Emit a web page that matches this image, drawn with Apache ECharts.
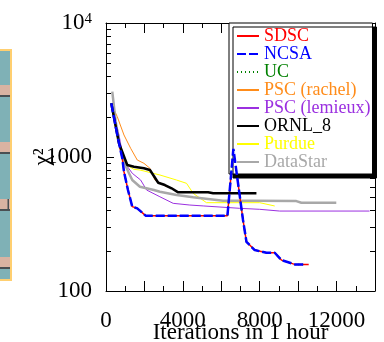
<!DOCTYPE html>
<html><head><meta charset="utf-8">
<script src="https://cdn.jsdelivr.net/npm/echarts@6/dist/echarts.min.js"></script>
<style>html,body{margin:0;padding:0;background:#fff}#c{width:384px;height:342px}</style>
</head><body><div id="c"></div>
<script>
// ---- data (x = iterations, y = chi^2) ----
const seriesNames = ['SDSC','NCSA','UC','PSC (rachel)','PSC (lemieux)','ORNL_8','Purdue','DataStar'];
const sdsc = [[275,2516],[587,1460],[847,978],[935,777],[1143,567],[1366,426],[1626,414],[2062,365],[6320,365],[6630,1150],[7130,339],[7310,233],[7740,202],[8350,193],[8780,193],[9130,170],[9820,158],[10550,158]];
const ncsa = [[275,2516],[587,1460],[847,978],[935,777],[1143,567],[1366,426],[1626,414],[2062,365],[6320,365],[6630,1150],[7130,339],[7310,233],[7740,202],[8350,193],[8780,193],[9130,170],[9820,158],[10300,158]];
const uc = [[275,2516],[587,1460],[847,978],[935,777],[1143,567],[1366,426],[1626,414],[2062,365],[6320,365],[6630,1150],[7130,339],[7310,233],[7740,202],[8350,193],[8780,193],[9130,170],[9820,158],[10300,158]];
const pscRachel = [[275,2516],[587,1998],[935,1460],[1283,1161],[1626,950],[1974,897],[2286,824],[2546,673],[3153,600]];
const pscLemieux = [[275,2516],[675,1460],[935,922],[1366,756],[1803,673],[2114,567],[2805,505],[3496,451],[4364,438],[5091,431],[6961,414],[8000,407],[9040,395],[13715,395]];
const ornl8 = [[275,2516],[675,1266],[1107,872],[1455,847],[1974,824],[2286,800],[2457,734],[2717,643],[3065,618],[3413,584],[3756,545],[5315,545],[5574,536],[7829,536]];
const purdue = [[275,2516],[600,1400],[935,897],[1455,809],[1766,800],[2805,734],[3673,673],[4192,636],[4535,536],[5231,456],[8000,456],[8780,431]];
const dataStar = [[327,3072],[504,1834],[675,1301],[935,922],[1195,756],[1366,673],[1766,600],[2494,567],[2805,551],[3673,521],[4535,501],[6094,472],[7640,472],[9907,469],[10166,456],[11985,456]];
const xLabels = [0,4000,8000,12000];
const yLabels = [100,1000,10000];
const yMinor = [200,300,400,500,600,700,800,900,2000,3000,4000,5000,6000,7000,8000,9000];
const xTitle = 'Iterations in 1 hour';
const yTitle = 'χ²';

// ---- styling ----
const FF = '"Liberation Serif","Times New Roman",serif';
const colors = ['#ff0000','#0000ff','#008000','#ff8c1a','#9b30e0','#000000','#ffff00','#a8a8a8'];
const lineStyles = [
  {width:1.5,type:'solid'},
  {width:2.5,type:[9,3]},
  {width:1.5,type:[1,3]},
  {width:1,type:'solid'},
  {width:1,type:'solid'},
  {width:2.5,type:'solid'},
  {width:1,type:'solid'},
  {width:2.5,type:'solid'}
];
const zs = [3,5,4,2,2,3,2,2];
const datasets = [sdsc,ncsa,uc,pscRachel,pscLemieux,ornl8,purdue,dataStar];

function xAx(pos, main){
  return {type:'value', min:0, max:14000, interval:2000, position:pos, gridIndex:0,
    axisLine:{show:true, onZero:false, lineStyle:{color:'#000', width:1}},
    axisTick:{show:true, inside:true, length:10, lineStyle:{color:'#000', width:1}},
    minorTick:{show:true, splitNumber:2, length:5, lineStyle:{color:'#000', width:1}},
    splitLine:{show:false}, minorSplitLine:{show:false},
    axisLabel:{show:main, formatter:v => xLabels.includes(v) ? String(v) : '', fontSize:23, fontFamily:FF, color:'#000', margin:18},
    name: main ? xTitle : '', nameLocation:'middle', nameGap:30, nameMoveOverlap:false,
    nameTextStyle:{fontSize:23, fontFamily:FF, color:'#000'}
  };
}
function yAx(pos, main){
  return {type:'log', logBase:10, min:100, max:10000, position:pos, gridIndex:0,
    axisLine:{show:true, onZero:false, lineStyle:{color:'#000', width:1}},
    axisTick:{show:true, inside:true, length:8, lineStyle:{color:'#000', width:1}},
    splitLine:{show:false}, minorTick:{show:false}, minorSplitLine:{show:false},
    axisLabel:{show:main, margin:14, fontSize:23, fontFamily:FF, color:'#000',
      formatter: v => v >= 9999 ? '{b|10}{s|4}' : (yLabels.some(l => Math.abs(l - v) < 1) ? String(Math.round(v)) : ''),
      rich:{b:{fontSize:23, fontFamily:FF, color:'#000'}, s:{fontSize:15, fontFamily:FF, color:'#000', verticalAlign:'top'}}
    },
    name: main ? yTitle : '', nameLocation:'middle', nameRotate:90, nameGap:52, nameMoveOverlap:false,
    nameTextStyle:{fontSize:23, fontFamily:FF, color:'#000'}
  };
}

const series = datasets.map((d,i) => ({
  name: seriesNames[i], type:'line', data:d, symbol:'none', z:zs[i],
  xAxisIndex:0, yAxisIndex:0,
  lineStyle:{color:colors[i], width:lineStyles[i].width, type:lineStyles[i].type},
  itemStyle:{color:colors[i]}, emphasis:{disabled:true}
}));
series.push({
  type:'custom', silent:true, xAxisIndex:0, yAxisIndex:0, clip:false, z:1,
  data: yMinor.map(v => [0, v]), encode:{x:0, y:1},
  renderItem:(params, api) => {
    const v = api.value(1);
    const p0 = api.coord([0, v]);
    const p1 = api.coord([14000, v]);
    const y = Math.round(p0[1]) + 0.5;
    return {type:'group', children:[
      {type:'line', shape:{x1:p0[0], y1:y, x2:p0[0]+5, y2:y}, style:{stroke:'#000', lineWidth:1}},
      {type:'line', shape:{x1:p1[0]-5, y1:y, x2:p1[0], y2:y}, style:{stroke:'#000', lineWidth:1}}
    ]};
  }
});

const stripeYs = [85,142,199,257];
const graphic = [
  {type:'rect', z:0, shape:{x:-2, y:50, width:13, height:230}, style:{fill:'#7fb1b6', stroke:'#ffcf70', lineWidth:2}}
];
stripeYs.forEach((y,i) => {
  graphic.push({type:'rect', z:0, shape:{x:0, y:y, width:10, height:10}, style:{fill:'#d9b3a2'}});
  graphic.push({type:'rect', z:0, shape:{x:0, y:y+10, width:10, height:2}, style:{fill:'#4a4f52'}});
  if (i === 2) graphic.push({type:'rect', z:0, shape:{x:7.5, y:y, width:1.5, height:10}, style:{fill:'#4a4f52'}});
});

const chart = echarts.init(document.getElementById('c'), null, {renderer:'canvas'});
chart.setOption({
  animation:false,
  backgroundColor:'#fff',
  grid:{left:106, right:9, top:23, bottom:51, containLabel:false, outerBoundsMode:'none'},
  xAxis:[xAx('bottom', true), xAx('top', false)],
  yAxis:[yAx('left', true), yAx('right', false)],
  legend:{
    orient:'vertical', left:229, top:23, padding:[4,2,3,7],
    itemWidth:22, itemHeight:12, itemGap:0, selectedMode:false,
    backgroundColor:'#fff', borderColor:'#000', borderWidth:1,
    shadowColor:'#000', shadowOffsetX:4, shadowOffsetY:4, shadowBlur:0,
    itemStyle:{opacity:0, borderWidth:0},
    textStyle:{fontSize:18, fontFamily:FF, lineHeight:17.2},
    data: seriesNames.map((n,i) => ({name:n, textStyle:{color:colors[i], fontSize:18, fontFamily:FF, lineHeight:17.2}}))
  },
  graphic: graphic,
  series: series
});
</script>
</body></html>
